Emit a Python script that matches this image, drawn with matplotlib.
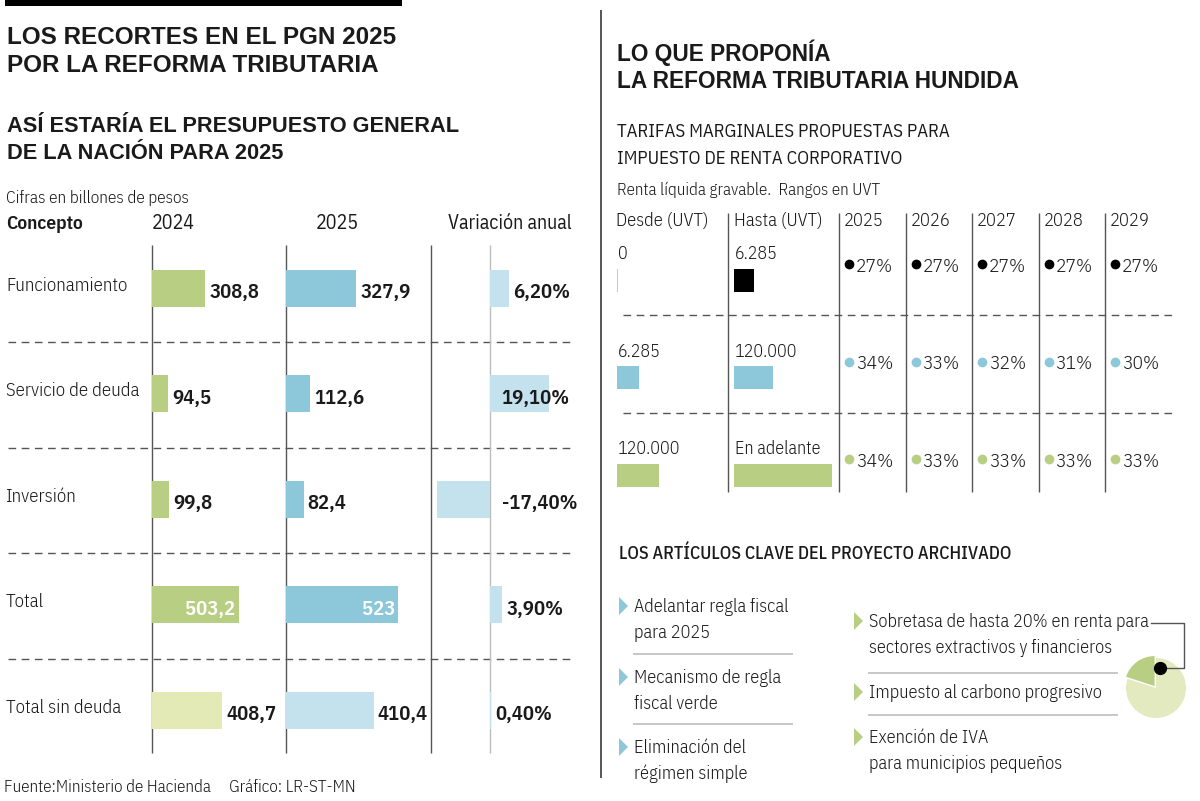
import matplotlib
matplotlib.use("Agg")
import matplotlib.pyplot as plt
from matplotlib.patches import Polygon

# ---------------- data ----------------
conceptos = ["Funcionamiento", "Servicio de deuda", "Inversión", "Total", "Total sin deuda"]
valores_2024 = [308.8, 94.5, 99.8, 503.2, 408.7]
valores_2025 = [327.9, 112.6, 82.4, 523.0, 410.4]
variacion = [6.2, 19.1, -17.4, 3.9, 0.4]
etiquetas_2024 = ["308,8", "94,5", "99,8", "503,2", "408,7"]
etiquetas_2025 = ["327,9", "112,6", "82,4", "523", "410,4"]
etiquetas_var = ["6,20%", "19,10%", "-17,40%", "3,90%", "0,40%"]

desde = ["0", "6.285", "120.000"]
hasta = ["6.285", "120.000", "En adelante"]
marca_desde = [1, 22, 42]      # schematic bar lengths (as drawn)
marca_hasta = [20, 39, 98]
anios = ["2025", "2026", "2027", "2028", "2029"]
tarifa_tramo1 = [27, 27, 27, 27, 27]
tarifa_tramo2 = [34, 33, 32, 31, 30]
tarifa_tramo3 = [34, 33, 33, 33, 33]

articulos_izq = [["Adelantar regla fiscal", "para 2025"],
                 ["Mecanismo de regla", "fiscal verde"],
                 ["Eliminación del", "régimen simple"]]
articulos_der = [["Sobretasa de hasta 20% en renta para", "sectores extractivos y financieros"],
                 ["Impuesto al carbono progresivo"],
                 ["Exención de IVA", "para municipios pequeños"]]
sobretasa_pie = [20, 80]

# ---------------- style ----------------
GREEN = "#b8cf83"
GREEN_L = "#e4eab6"
BLUE = "#8cc7da"
BLUE_L = "#c3e2ed"
PIE_L = "#e3eac0"
DARK = "#1a1a1a"
LINE = "#555555"
COND = ["IBM Plex Sans Condensed", "DejaVu Sans"]
WIDE = ["Liberation Sans", "DejaVu Sans"]

W, H = 1200, 801
fig = plt.figure(figsize=(W / 100, H / 100), dpi=100)
base = fig.add_axes([0, 0, 1, 1])
base.set_xlim(0, W)
base.set_ylim(H, 0)
base.axis("off")


def pt(px):
    return px * 0.72


def txt(x, yc, s, px, weight=300, family=COND, color=DARK, ha="left"):
    """text whose capitals are vertically centred on yc (pixels)."""
    base.text(x, yc + 0.35 * px, s, fontsize=pt(px), fontweight=weight,
              family=family, color=color, ha=ha, va="baseline")


def ann(ax, x, y, s, px, dx_px=0, dy_px=0, weight=300, color=DARK, ha="left"):
    ax.annotate(s, (x, y), xytext=(pt(dx_px), pt(-dy_px - 0.35 * px)),
                textcoords="offset points", fontsize=pt(px), fontweight=weight,
                family=COND, color=color, ha=ha, va="baseline",
                annotation_clip=False)


def sub_axes(x0, x1, y0, y1, xlim, ylim):
    a = fig.add_axes([x0 / W, 1 - y1 / H, (x1 - x0) / W, (y1 - y0) / H])
    a.set_xlim(*xlim)
    a.set_ylim(*ylim)
    a.axis("off")
    return a


def hline(x0, x1, y, color=LINE, lw=1.0, dashed=False):
    ln, = base.plot([x0, x1], [y, y], color=color, lw=lw, solid_capstyle="butt")
    if dashed:
        ln.set_dashes([5.5, 4])


def vline(x, y0, y1, color=LINE, lw=1.0):
    base.plot([x, x], [y0, y1], color=color, lw=lw, solid_capstyle="butt")


# ================= LEFT PANEL =================
base.fill_between([5, 402], 0, 6, color="#000000", lw=0)
txt(7, 35, "LOS RECORTES EN EL PGN 2025", 24.3, weight="bold", family=WIDE)
txt(7, 63, "POR LA REFORMA TRIBUTARIA", 24.3, weight="bold", family=WIDE)
txt(7, 124, "ASÍ ESTARÍA EL PRESUPUESTO GENERAL", 21.8, weight="bold", family=WIDE)
txt(7, 151, "DE LA NACIÓN PARA 2025", 21.8, weight="bold", family=WIDE)
txt(6, 197, "Cifras en billones de pesos", 17.3)
txt(6, 222, "Concepto", 19.5, weight=600)
txt(152, 222, "2024", 20, weight=400)
txt(316, 222, "2025", 20, weight=400)
txt(448, 222, "Variación anual", 20, weight=400)

n = len(conceptos)
ROW0, ROWH = 235.5, 105.5
y_top, y_bot = ROW0, ROW0 + n * ROWH
row_c = [ROW0 + (i + 0.5) * ROWH for i in range(n)]

# dashed separators between rows
for i in range(n - 1):
    hline(8, 573, (row_c[i] + row_c[i + 1]) / 2 + 1, dashed=True)

# column rules
for x, c in [(152, LINE), (286, LINE), (431, LINE), (490, "#bdbdbd")]:
    vline(x, 245, 753, color=c)

for i, name in enumerate(conceptos):
    txt(6, row_c[i] - 4, name, 18.8)

BAR_H = 37 / ROWH
S24, S25, SV = 0.172, 0.214, 3.07
ax24 = sub_axes(152, 286, y_top, y_bot, (0, 134 / S24), (n - 0.5, -0.5))
ax25 = sub_axes(286, 431, y_top, y_bot, (0, 145 / S25), (n - 0.5, -0.5))
axv = sub_axes(431, 600, y_top, y_bot, (-(490 - 431) / SV, (600 - 490) / SV), (n - 0.5, -0.5))

col24 = [GREEN, GREEN, GREEN, GREEN, GREEN_L]
col25 = [BLUE, BLUE, BLUE, BLUE, BLUE_L]
ax24.barh(range(n), valores_2024, height=BAR_H, color=col24, lw=0)
ax25.barh(range(n), valores_2025, height=BAR_H, color=col25, lw=0)
axv.barh(range(n), variacion, height=BAR_H, color=BLUE_L, lw=0)

VAL_PX = 20.7
for i in range(n):
    inside = conceptos[i] == "Total"
    for ax, v, lab in [(ax24, valores_2024[i], etiquetas_2024[i]),
                       (ax25, valores_2025[i], etiquetas_2025[i])]:
        if inside:
            ann(ax, v, i, lab, VAL_PX, dx_px=-3, dy_px=3, weight=600,
                color="white", ha="right")
        else:
            ann(ax, v, i, lab, VAL_PX, dx_px=4, dy_px=3, weight=600)

var_dx = [4, -47, 12, 5, 4]
for i in range(n):
    ann(axv, max(variacion[i], 0), i, etiquetas_var[i], VAL_PX,
        dx_px=var_dx[i], dy_px=3, weight=600)

txt(4, 786, "Fuente:Ministerio de Hacienda     Gráfico: LR-ST-MN", 17)

# panel divider
vline(601, 10, 778, color=LINE, lw=1.4)

# ================= RIGHT PANEL =================
txt(617, 53, "LO QUE PROPONÍA", 22.6, weight="bold", family=WIDE)
txt(617, 80, "LA REFORMA TRIBUTARIA HUNDIDA", 22.6, weight="bold", family=WIDE)
txt(617, 130, "TARIFAS MARGINALES PROPUESTAS PARA", 18.8, weight=400)
txt(617, 157, "IMPUESTO DE RENTA CORPORATIVO", 18.8, weight=400)
txt(617, 189, "Renta líquida gravable.  Rangos en UVT", 16.9)

COLW = 66.5
col_left = [839 + k * COLW for k in range(len(anios))]
HDR = 18.5
txt(616, 220, "Desde (UVT)", HDR)
txt(734, 220, "Hasta (UVT)", HDR)
for k, a in enumerate(anios):
    txt(col_left[k] + 5, 220, a, HDR)
for x in [728] + col_left:
    vline(x, 213, 492, color=LINE)

m = len(desde)
R0, RH = 231.25, 97.5
rc = [R0 + (j + 0.5) * RH for j in range(m)]
for j in range(m - 1):
    hline(623, 1174, rc[j] + 35, dashed=True)

BH2 = 23 / RH
axd = sub_axes(617, 728, R0, R0 + m * RH, (0, 111), (m - 0.5, -0.5))
axh = sub_axes(734, 839, R0, R0 + m * RH, (0, 105), (m - 0.5, -0.5))
axd.barh(range(m), marca_desde, height=BH2, color=["#c8c8c8", BLUE, GREEN], lw=0)
axh.barh(range(m), marca_hasta, height=BH2, color=["#000000", BLUE, GREEN], lw=0)
for j in range(m):
    ann(axd, 0, j, desde[j], 18, dx_px=1, dy_px=-27)
    ann(axh, 0, j, hasta[j], 18, dx_px=1, dy_px=-27)

dot_off = 10
axr = sub_axes(839, 839 + 5 * COLW, R0 - 16, R0 - 16 + m * RH,
               (-dot_off / COLW, 5 - dot_off / COLW), (m - 0.5, -0.5))
dot_cols = ["#000000", BLUE, GREEN]
for j, tarifas in enumerate([tarifa_tramo1, tarifa_tramo2, tarifa_tramo3]):
    xs = list(range(len(anios)))
    axr.scatter(xs, [j] * len(xs), s=(7.0) ** 2, color=dot_cols[j], lw=0,
                clip_on=False, zorder=3)
    for k, v in enumerate(tarifas):
        ann(axr, k, j, f"{v}%", 19.5, dx_px=7, dy_px=1)

# ----- articles -----
txt(619, 553, "LOS ARTÍCULOS CLAVE DEL PROYECTO ARCHIVADO", 18, weight=500)


def tri(x, yc, color):
    base.add_patch(Polygon([[x, yc - 9], [x + 9, yc], [x, yc + 9]],
                           closed=True, color=color, lw=0))


LH = 26
ITEM_PX = 18.3
izq_y = [606, 677, 747]
for item, y in zip(articulos_izq, izq_y):
    tri(619, y, BLUE)
    for r, line in enumerate(item):
        txt(634, y + r * LH, line, ITEM_PX)
for y in [654, 724]:
    hline(633, 793, y, color="#bdbdbd", lw=1.2)

der_y = [621, 692, 737]
for item, y in zip(articulos_der, der_y):
    tri(854, y, GREEN)
    for r, line in enumerate(item):
        txt(869, y + r * LH, line, ITEM_PX)
for y in [673, 715]:
    hline(868, 1118, y, color="#bdbdbd", lw=1.2)

# pie
PCX, PCY, PR = 1156, 688, 30
axp = sub_axes(PCX - 1.25 * PR, PCX + 1.25 * PR, PCY - 1.25 * PR, PCY + 1.25 * PR,
               (-1.25, 1.25), (-1.25, 1.25))
axp.pie(sobretasa_pie, colors=[GREEN, PIE_L], startangle=90, counterclock=True,
        explode=[0.08, 0], radius=1.0, wedgeprops=dict(lw=0))
axp.set_xlim(-1.25, 1.25)
axp.set_ylim(-1.25, 1.25)

# connector + dot drawn on a transparent overlay above the pie
top = fig.add_axes([0, 0, 1, 1])
top.set_xlim(0, W)
top.set_ylim(H, 0)
top.axis("off")
top.patch.set_alpha(0)
top.plot([1151, 1184, 1184, 1161], [623, 623, 668, 668], color=LINE, lw=1.0)
top.plot([1160], [668], "o", color="#000000", ms=8.5, zorder=5)

fig.savefig("out.png", dpi=100)
